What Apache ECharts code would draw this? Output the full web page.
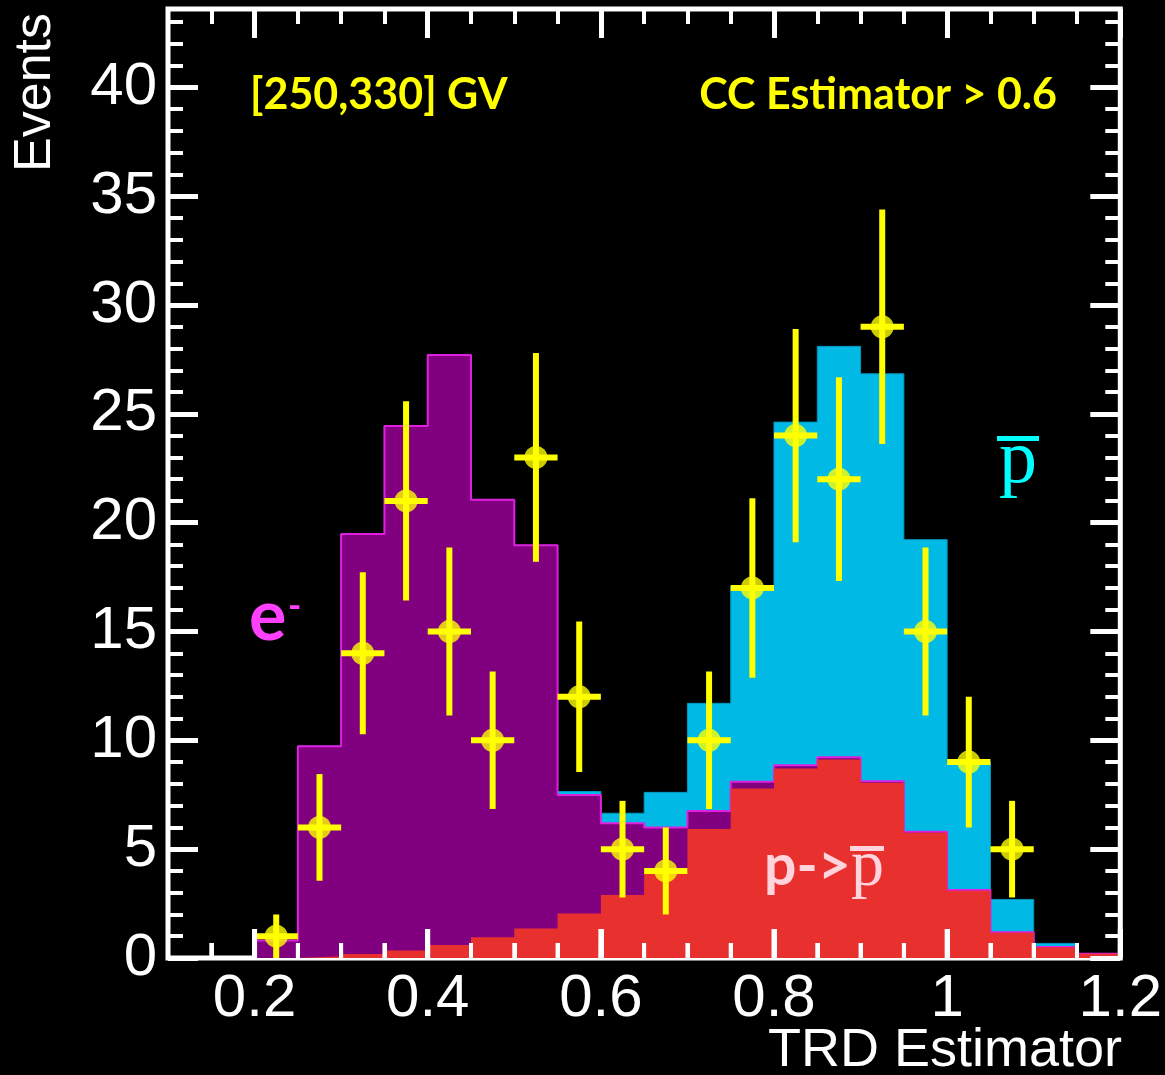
<!DOCTYPE html>
<html>
<head>
<meta charset="utf-8">
<title>TRD Estimator</title>
<style>
html,body{margin:0;padding:0;background:#000;width:100%;height:100%;}
#main{width:1165px;height:1075px;}
</style>
</head>
<body>
<div id="main"></div>
<script src="https://cdn.jsdelivr.net/npm/echarts@6/dist/echarts.min.js"></script>
<script>
// histogram bins (TRD estimator)
var binEdges = [0.2, 0.25, 0.3, 0.35, 0.4, 0.45, 0.5, 0.55, 0.6, 0.65, 0.7,
                0.75, 0.8, 0.85, 0.9, 0.95, 1.0, 1.05, 1.1, 1.15, 1.2];
// templates, events per bin (stacked: red, then purple, then cyan)
var protonLeak  = [0, 0.08, 0.18, 0.34, 0.6, 0.95, 1.36, 2.04, 2.89, 3.9,
                   5.93, 7.79, 8.71, 9.12, 8.05, 5.75, 3.09, 1.16, 0.49, 0.2];
var electrons   = [0.8, 9.65, 19.3, 24.1, 27.1, 20.1, 17.6, 5.45, 3.3, 2.1,
                   0.82, 0.31, 0.15, 0.1, 0.07, 0.05, 0.03, 0.02, 0.01, 0];
var antiprotons = [0, 0, 0, 0, 0, 0, 0, 0.16, 0.46, 1.61,
                   4.95, 8.98, 15.76, 18.88, 18.72, 13.42, 5.88, 1.51, 0.17, 0];

// measured data
var dataX      = [0.225, 0.275, 0.325, 0.375, 0.425, 0.475, 0.525, 0.575, 0.625,
                  0.675, 0.725, 0.775, 0.825, 0.875, 0.925, 0.975, 1.025, 1.075];
var dataCounts = [1, 6, 14, 21, 15, 10, 23, 12, 5, 4, 10, 17, 24, 22, 29, 15, 9, 5];
var dataErrors = [1.0, 2.45, 3.72, 4.58, 3.86, 3.16, 4.8, 3.46, 2.22, 2.0, 3.16, 4.12,
                  4.9, 4.68, 5.39, 3.86, 3.0, 2.22];

// ticks
var xMajorTicks = [0.2, 0.4, 0.6, 0.8, 1, 1.2];
var xMinorTicks = [0.15, 0.2, 0.25, 0.3, 0.35, 0.4, 0.45, 0.5, 0.55, 0.6, 0.65, 0.7,
                   0.75, 0.8, 0.85, 0.9, 0.95, 1, 1.05, 1.1, 1.15];
var yMajorTicks = [0, 5, 10, 15, 20, 25, 30, 35, 40];
var yMinorTicks = [1, 2, 3, 4, 6, 7, 8, 9, 11, 12, 13, 14, 16, 17, 18, 19, 21, 22, 23, 24,
                   26, 27, 28, 29, 31, 32, 33, 34, 36, 37, 38, 39, 41, 42, 43];

var redTop = protonLeak.slice();
var purpleTop = protonLeak.map(function (v, i) { return v + electrons[i]; });
var cyanTop = purpleTop.map(function (v, i) { return v + antiprotons[i]; });

function stepData(tops) {
    var pts = [[binEdges[0], 0]];
    for (var i = 0; i < tops.length; i++) pts.push([binEdges[i], tops[i]]);
    pts.push([binEdges[binEdges.length - 1], 0]);
    return pts;
}

var halfBin = (binEdges[1] - binEdges[0]) / 2;
var points = dataX.map(function (x, i) { return [x, dataCounts[i], dataErrors[i], halfBin]; });

var XMIN = 0.1, XMAX = 1.2, YMIN = 0, YMAX = 43.6;

function mkX(pos, ticks, len, w, labels) {
    return {
        type: 'value', position: pos, min: XMIN, max: XMAX, z: 10,
        axisLine: { show: false, onZero: false },
        splitLine: { show: false },
        axisTick: ticks ? { show: true, inside: true, length: len, customValues: ticks,
                            lineStyle: { color: '#fff', width: w } } : { show: false },
        axisLabel: labels ? { show: true, customValues: labels, color: '#fff', fontSize: 60,
                              fontFamily: 'Liberation Sans', margin: 11 } : { show: false }
    };
}
function mkY(pos, ticks, len, w, labels) {
    return {
        type: 'value', position: pos, min: YMIN, max: YMAX, z: 10,
        axisLine: { show: false, onZero: false },
        splitLine: { show: false },
        axisTick: { show: true, inside: true, length: len, customValues: ticks,
                    lineStyle: { color: '#fff', width: w } },
        axisLabel: labels ? { show: true, customValues: ticks, color: '#fff', fontSize: 60,
                              fontFamily: 'Liberation Sans', margin: 11 } : { show: false }
    };
}

var texts = [
    { type: 'text', x: 250, y: 95, z: 20,
      style: { text: '[250,330] GV', fill: '#ffff00', font: 'bold 43px Lato',
               textAlign: 'left', textVerticalAlign: 'middle' } },
    { type: 'text', x: 1057, y: 95, z: 20,
      style: { text: 'CC Estimator > 0.6', fill: '#ffff00', font: 'bold 43px Lato',
               textAlign: 'right', textVerticalAlign: 'middle' } },
    { type: 'text', x: 36, y: 13, rotation: Math.PI / 2, z: 20,
      style: { text: 'Events', fill: '#fff', font: '52px "Liberation Sans"',
               textAlign: 'right', textVerticalAlign: 'middle' } },
    { type: 'text', x: 1122, y: 1051, z: 20,
      style: { text: 'TRD Estimator', fill: '#fff', font: '54px "Liberation Sans"',
               textAlign: 'right', textVerticalAlign: 'middle' } },
    { type: 'text', x: 249, y: 617, z: 20,
      style: { text: 'e', fill: '#ff40ff', font: 'bold 70px Lato',
               textAlign: 'left', textVerticalAlign: 'middle' } },
    { type: 'text', x: 288, y: 606, z: 20,
      style: { text: '-', fill: '#ff40ff', font: 'bold 36px Lato',
               textAlign: 'left', textVerticalAlign: 'middle' } },
    { type: 'text', x: 999, y: 462, z: 20,
      style: { text: 'p', fill: '#00ffff', font: '76px "Liberation Serif"',
               textAlign: 'left', textVerticalAlign: 'middle' } },
    { type: 'rect', z: 20, shape: { x: 997, y: 436, width: 42, height: 5 },
      style: { fill: '#00ffff' } },
    { type: 'text', x: 764, y: 867, z: 20,
      style: { text: 'p->', fill: '#ffd4dc', font: 'bold 57px Lato',
               textAlign: 'left', textVerticalAlign: 'middle' } },
    { type: 'text', x: 851, y: 868, z: 20,
      style: { text: 'p', fill: '#ffd4dc', font: '66px "Liberation Serif"',
               textAlign: 'left', textVerticalAlign: 'middle' } },
    { type: 'rect', z: 20, shape: { x: 850, y: 846, width: 34, height: 5 },
      style: { fill: '#ffd4dc' } }
];

var chart = echarts.init(document.getElementById('main'));
chart.setOption({
    animation: false,
    backgroundColor: '#000',
    grid: { left: 168, right: 42.5, top: 9, bottom: 117, show: true,
            borderColor: '#fff', borderWidth: 5 },
    xAxis: [
        mkX('bottom', xMinorTicks, 15, 4, null),
        mkX('bottom', xMajorTicks, 29, 5, xMajorTicks),
        mkX('top', xMinorTicks, 15, 4, null),
        mkX('top', xMajorTicks, 29, 5, null)
    ],
    yAxis: [
        mkY('left', yMajorTicks, 30, 5, true),
        mkY('left', yMinorTicks, 15, 4, false),
        mkY('right', yMajorTicks, 30, 5, false),
        mkY('right', yMinorTicks, 15, 4, false)
    ],
    series: [
        {
            name: 'pbar', type: 'line', step: 'end', z: 2, symbol: 'none',
            data: stepData(cyanTop),
            lineStyle: { width: 1, color: '#0098c0' },
            areaStyle: { color: '#00b9e4', opacity: 1 }
        },
        {
            name: 'e-', type: 'line', step: 'end', z: 3, symbol: 'none',
            data: stepData(purpleTop),
            lineStyle: { width: 2, color: '#e020e0' },
            areaStyle: { color: '#800080', opacity: 1 }
        },
        {
            name: 'p->pbar', type: 'line', step: 'end', z: 4, symbol: 'none',
            data: stepData(redTop),
            lineStyle: { width: 0, opacity: 0 },
            areaStyle: { color: '#e8302f', opacity: 1 }
        },
        {
            name: 'errors', type: 'custom', z: 12,
            data: points,
            renderItem: function (params, api) {
                var x = api.value(0), y = api.value(1), e = api.value(2), h = api.value(3);
                var top = api.coord([x, y + e]);
                var bot = api.coord([x, Math.max(y - e, 0)]);
                var l = api.coord([x - h, y]);
                var r = api.coord([x + h, y]);
                var st = { stroke: '#ffff00', lineWidth: 6 };
                return {
                    type: 'group',
                    children: [
                        { type: 'line', shape: { x1: top[0], y1: top[1], x2: bot[0], y2: bot[1] }, style: st },
                        { type: 'line', shape: { x1: l[0], y1: l[1], x2: r[0], y2: r[1] }, style: st }
                    ]
                };
            }
        },
        {
            name: 'data', type: 'scatter', z: 13, symbolSize: 23,
            data: dataX.map(function (x, i) { return [x, dataCounts[i]]; }),
            itemStyle: { color: '#ffff00' }
        }
    ],
    graphic: texts
});

// inward ticks along the bottom edge, positioned through the x scale
function tickRects(values, len, w) {
    return values.map(function (v) {
        var p = chart.convertToPixel({ xAxisIndex: 0, yAxisIndex: 0 }, [v, YMIN]);
        return { type: 'rect', z: 30, silent: true,
                 shape: { x: p[0] - w / 2, y: p[1] - len, width: w, height: len },
                 style: { fill: '#ffffff' } };
    });
}
chart.setOption({
    graphic: texts.concat(tickRects(xMinorTicks, 15, 4), tickRects(xMajorTicks, 29, 5))
});
</script>
</body>
</html>
